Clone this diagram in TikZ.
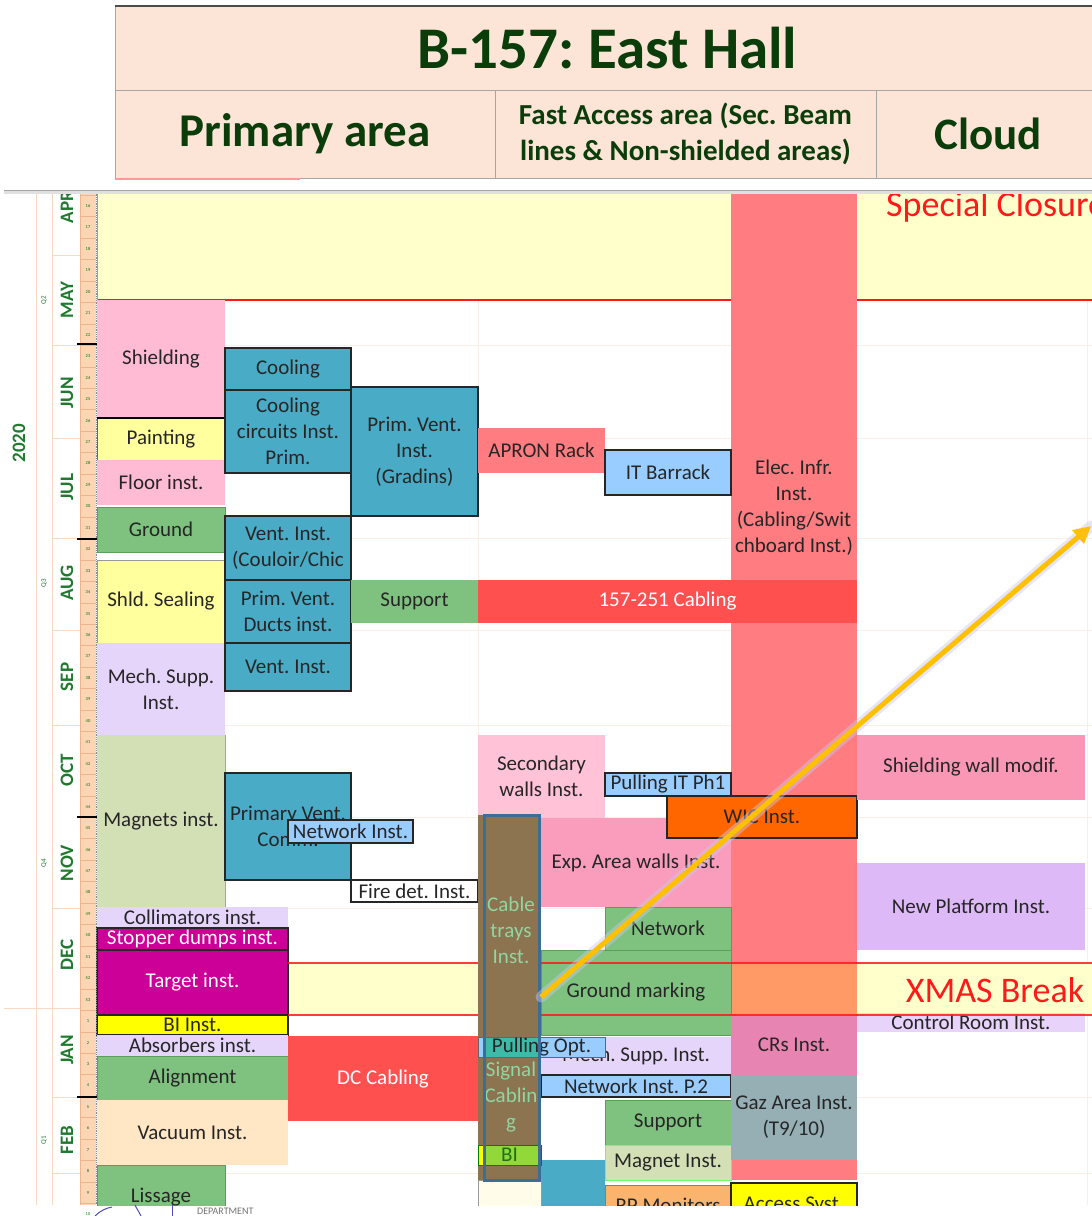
\documentclass[tikz,border=0pt]{standalone}
\usepackage{fontspec}
\setmainfont{Carlito}
\usetikzlibrary{arrows.meta}
\frenchspacing
\definecolor{hdr}{HTML}{FCE4D6}
\definecolor{hdrb}{HTML}{A6A6A6}
\definecolor{tgreen}{HTML}{0B3D0B}
\definecolor{mgreen}{HTML}{1F7A2E}
\definecolor{closure}{HTML}{FFFFCC}
\definecolor{redl}{HTML}{FF1A1A}
\definecolor{elec}{HTML}{FF7C80}
\definecolor{pinkA}{HTML}{FFBBD3}
\definecolor{yelA}{HTML}{FFFF9E}
\definecolor{grn}{HTML}{7FC27F}
\definecolor{grnb}{HTML}{5A9E5A}
\definecolor{lav}{HTML}{E6D5FB}
\definecolor{olive}{HTML}{D3DFB5}
\definecolor{mag}{HTML}{CC0099}
\definecolor{vyel}{HTML}{FFFF00}
\definecolor{peach}{HTML}{FFE6C4}
\definecolor{tealb}{HTML}{4AABC6}
\definecolor{lblue}{HTML}{99CCFF}
\definecolor{redb}{HTML}{FF5050}
\definecolor{pinkB}{HTML}{FFC2D6}
\definecolor{pinkC}{HTML}{FA9CBB}
\definecolor{orng}{HTML}{FF6600}
\definecolor{brown}{HTML}{8C7451}
\definecolor{steel}{HTML}{3A6E96}
\definecolor{cabt}{HTML}{8FD6A0}
\definecolor{tealo}{HTML}{3DBBA8}
\definecolor{ygreen}{HTML}{92D838}
\definecolor{crsc}{HTML}{E884B2}
\definecolor{gazc}{HTML}{96AFB4}
\definecolor{swmc}{HTML}{FA97B5}
\definecolor{newpc}{HTML}{DDB9F8}
\definecolor{ctrlc}{HTML}{E8D4FB}
\definecolor{xorg}{HTML}{FF9A66}
\definecolor{rpmc}{HTML}{FAB46E}
\definecolor{weekc}{HTML}{FCD5B4}
\definecolor{weekl}{HTML}{EDB48E}
\definecolor{gridc}{HTML}{FBEEE6}
\definecolor{axl}{HTML}{FAD9C3}
\definecolor{arrowc}{HTML}{FFC000}
\definecolor{txtc}{HTML}{262626}
\definecolor{cream}{HTML}{FFFDEA}
\definecolor{dgrn}{HTML}{1E6E1E}
\definecolor{glowc}{HTML}{C8C8F0}
\newcommand\bx[7]{%
  \pgfmathsetmacro\bxw{#4-#2}%
  \pgfmathsetmacro\bxh{#5-#3}%
  \pgfmathsetmacro\bxcx{(#2+#4)/2}%
  \pgfmathsetmacro\bxcy{(#3+#5)/2}%
  \node[box,#6,minimum width=\bxw pt,minimum height=\bxh pt] (#1) at (\bxcx,\bxcy) {#7};}
\begin{document}
\begin{tikzpicture}[x=1pt,y=-1pt,
  box/.style={rectangle,inner sep=0pt,outer sep=0pt,align=center,font=\fontsize{21}{26}\selectfont,text=txtc},
  lbl/.style={inner sep=0pt,align=center,font=\fontsize{21}{26}\selectfont,text=txtc},
  mon/.style={rotate=90,font=\fontsize{19}{22}\selectfont\bfseries,text=mgreen,inner sep=0pt},
  qlab/.style={rotate=90,font=\fontsize{7}{8}\selectfont,text=mgreen,inner sep=0pt},
  bdr/.style={draw=black!85,line width=1.2pt},
  hcell/.style={fill=hdr,draw=hdrb,line width=1pt},
  wtext/.style={text=white},
]
\useasboundingbox (0,0) rectangle (1092,1216);
\clip (0,0) rectangle (1092,1216);
\fill[white] (0,0) rectangle (1092,1216);

% ================= CHART =================
\begin{scope}
\clip (0,190) rectangle (1092,1205);
% faint grid
\foreach \yy in {255,345,438,538,630,725,817,908,1008,1097,1173}
  \draw[gridc,line width=1pt] (97,\yy) -- (1092,\yy);
\draw[gridc,line width=1pt] (478,190) -- (478,1205);
\draw[gridc,line width=1pt] (1087,190) -- (1087,1205);

% bands
\fill[closure] (97,190) rectangle (1092,300);
\draw[redl,line width=1.3pt] (97,300) -- (1092,300);
\draw[redl!60,line width=0.8pt] (97.5,190) -- (97.5,300);
\fill[closure] (288,963) rectangle (1092,1015);

% elec column
\bx{elec}{731}{190}{857}{1180}{fill=elec}{}
\fill[xorg] (731,963) rectangle (857,1015);
\node[lbl] (eleclbl) at (794,508) {Elec. Infr.\\Inst.\\(Cabling/Swit\\chboard Inst.)};

\node[anchor=west,inner sep=0pt,text=redl,font=\fontsize{36}{38}\selectfont] (closuretxt) at (886,207) {Special Closure};
\node[inner sep=0pt,text=redl,font=\fontsize{36}{38}\selectfont] (xmastxt) at (995,990) {XMAS Break};

% primary sub-column A
\bx{shield}{97}{300}{225}{418}{fill=pinkA}{Shielding}
\bx{paint}{97}{418}{225}{460}{fill=yelA,draw=black!60,line width=0.8pt}{Painting}
\draw[black,line width=1.2pt] (paint.north west) -- (paint.north east);
\bx{floor}{97}{460}{225}{505}{fill=pinkA}{Floor inst.}
\bx{ground}{97}{507}{225}{552}{fill=grn,draw=grnb,line width=0.8pt}{Ground}
\bx{sealing}{97}{560}{225}{643}{fill=yelA,draw=black!40,line width=0.8pt}{Shld. Sealing}
\bx{mechA}{97}{643}{225}{735}{fill=lav}{Mech. Supp.\\Inst.}
\bx{magnets}{97}{735}{225}{907}{fill=olive}{Magnets inst.}
\draw[green!70!black!60,line width=1pt] (magnets.north east) -- (magnets.south east);
\bx{collim}{97}{907}{288}{928}{fill=lav}{Collimators inst.}
\bx{stopper}{97}{928}{288}{950}{fill=mag,bdr,wtext}{Stopper dumps inst.}
\bx{target}{97}{950}{288}{1015}{fill=mag,bdr,wtext}{Target inst.}
\bx{biinst}{97}{1015}{288}{1035}{fill=vyel,bdr}{BI Inst.}
\bx{absorb}{97}{1035}{288}{1056}{fill=lav}{Absorbers inst.}
\bx{align}{97}{1056}{288}{1100}{fill=grn,draw=grnb,line width=0.6pt}{Alignment}
\bx{vacuum}{97}{1100}{288}{1165}{fill=peach}{Vacuum Inst.}
\bx{lissage}{97}{1165}{225}{1230}{fill=grn,draw=grnb,line width=0.6pt}{Lissage}

% primary sub-column B
\bx{cool}{225}{348}{351}{390}{fill=tealb,bdr}{Cooling}
\bx{coolc}{225}{390}{351}{473}{fill=tealb,bdr}{Cooling\\circuits Inst.\\Prim.}
\bx{ventc}{225}{516}{351}{580}{fill=tealb,bdr}{Vent. Inst.\\(Couloir/Chic}
\bx{ducts}{225}{580}{351}{643}{fill=tealb,bdr}{Prim. Vent.\\Ducts inst.}
\bx{ventb}{225}{643}{351}{691}{fill=tealb,bdr}{Vent. Inst.}
\bx{pvcomm}{225}{773}{351}{880}{fill=tealb,bdr}{Primary Vent.\\Comm.}
\bx{netinst}{288}{820}{413}{843}{fill=lblue,bdr}{Network Inst.}

% primary sub-column C
\bx{gradins}{351}{387}{478}{516}{fill=tealb,bdr}{Prim. Vent.\\Inst.\\(Gradins)}
\bx{supportA}{351}{580}{478}{623}{fill=grn}{Support}
\bx{fire}{351}{880}{478}{902}{fill=white,bdr}{Fire det. Inst.}
\bx{dccab}{288}{1036}{478}{1121}{fill=redb,wtext}{DC Cabling}

% fast access
\bx{apron}{478}{428}{605}{473}{fill=elec}{APRON Rack}
\bx{itb}{605}{450}{731}{495}{fill=lblue,bdr}{IT Barrack}
\bx{cab157}{478}{580}{857}{623}{fill=redb,wtext}{157-251 Cabling}
\bx{secw}{478}{735}{605}{818}{fill=pinkB}{Secondary\\walls Inst.}
\bx{expw}{541}{818}{731}{907}{fill=pinkC}{Exp. Area walls Inst.}
\fill[pinkC] (478,818) rectangle (541,907);
\bx{pullit}{605}{773}{731}{796}{fill=lblue,bdr}{Pulling IT Ph1}
\bx{wic}{667}{796}{857}{838}{fill=orng,bdr}{WIC Inst.}
\bx{netA}{605}{907}{731}{950}{fill=grn,draw=grnb,line width=0.8pt}{Network}
\bx{gmark}{541}{950}{731}{1035}{fill=grn,draw=grnb,line width=0.8pt}{Ground marking}
\bx{mechB}{541}{1037}{731}{1075}{fill=lav}{Mech. Supp. Inst.}
\bx{netp2}{541}{1075}{731}{1097}{fill=lblue,bdr}{Network Inst. P.2}
\bx{supportB}{605}{1100}{731}{1145}{fill=grn,draw=grnb,line width=0.6pt}{Support}
\bx{magnetB}{605}{1145}{731}{1180}{fill=olive,draw=green!60,line width=1pt}{Magnet Inst.}
\bx{rpmon}{605}{1185}{731}{1226}{fill=rpmc,draw=black!50,line width=0.6pt}{RP Monitors}
\bx{tealbot}{541}{1160}{605}{1226}{fill=tealb}{}
\bx{creambox}{478}{1180}{541}{1226}{fill=cream,draw=black!40,line width=0.8pt}{}

% elec column content
\bx{crs}{731}{1015}{857}{1075}{fill=crsc}{CRs Inst.}
\bx{gaz}{731}{1075}{857}{1160}{fill=gazc}{Gaz Area Inst.\\(T9/10)}
\bx{access}{731}{1183}{857}{1228}{fill=vyel,bdr}{Access Syst.}

% cloud
\bx{swm}{857}{735}{1085}{800}{fill=swmc}{Shielding wall modif.}
\bx{newp}{857}{863}{1085}{950}{fill=newpc}{New Platform Inst.}
\bx{ctrl}{857}{1013}{1085}{1032}{fill=ctrlc}{Control Room Inst.}

% xmas lines
\draw[redl,line width=1.2pt,opacity=0.85] (288,963) -- (1092,963);
\draw[redl,line width=1.2pt,opacity=0.85] (288,1015) -- (1092,1015);

% cable column
\bx{cable}{478}{815}{541}{1180}{fill=brown}{}
\node[lbl,text=cabt] (cablelbl) at (511,930) {Cable\\trays\\Inst.};
\node[lbl,text=cabt] (signallbl) at (511,1097) {Signal\\Cablin\\g};
\bx{pullopt}{478}{1037}{605}{1057}{fill=lblue,draw=black!60,line width=0.8pt,
  path picture={\fill[tealo] ([xshift=5pt]path picture bounding box.north west) rectangle ([xshift=63pt]path picture bounding box.south west);}}{Pulling Opt.}
\bx{bibox}{478}{1145}{541}{1165}{fill=ygreen,draw=green!50!black,line width=0.6pt,text=dgrn,
  path picture={\fill[vyel] (path picture bounding box.north west) rectangle ([xshift=5pt]path picture bounding box.south west);}}{BI}
\draw[steel,line width=3pt] ([xshift=6pt]cable.north west) rectangle ([xshift=-1.5pt]cable.south east);

% arrow
\coordinate (arrS) at (541,997);
\coordinate (arrE) at (1091,526);
\draw[glowc,line width=11pt,opacity=0.45,line cap=round] (arrS) -- (arrE);
\draw[arrowc,line width=5pt,-{Triangle[length=17pt,width=17pt]}] (arrS) -- (arrE);
\end{scope}

% ================= LEFT AXIS =================
\draw[axl,line width=1pt] (36,190) -- (36,1205);
\draw[axl,line width=1pt] (52,190) -- (52,1205);
\draw[axl,line width=1pt] (4,1008) -- (52,1008);
\foreach \yy in {255,345,438,538,630,725,908,1008,1097,1173}
  \draw[axl,line width=1pt] (52,\yy) -- (80,\yy);
\fill[weekc] (80,190) rectangle (96,1205);
\draw[weekl,line width=0.8pt] (80,190) -- (80,1205);
\draw[black!45,line width=0.8pt,densely dotted] (96.5,190) -- (96.5,1205);
\foreach \i in {0,...,47}{
  \pgfmathsetmacro\wy{195.3+21.45*\i}
  \draw[weekl,line width=0.7pt] (80,\wy) -- (96,\wy);
  \pgfmathtruncatemacro\wn{mod(15+\i,53)+1}
  \pgfmathsetmacro\wty{\wy+10.7}
  \node[font=\fontsize{4.5}{5}\selectfont,text=green!45!black,inner sep=0pt] (wk\i) at (88,\wty) {\wn};
}
\foreach \yy in {344,539,817,1097}
  \draw[black,line width=1.6pt] (77,\yy) -- (97,\yy);

\node[mon] (mApr) at (67,207) {APR};
\node[mon] (mMay) at (67,300) {MAY};
\node[mon] (mJun) at (67,393) {JUN};
\node[mon] (mJul) at (67,487) {JUL};
\node[mon] (mAug) at (67,583) {AUG};
\node[mon] (mSep) at (67,677) {SEP};
\node[mon] (mOct) at (67,770) {OCT};
\node[mon] (mNov) at (67,863) {NOV};
\node[mon] (mDec) at (67,955) {DEC};
\node[mon] (mJan) at (67,1050) {JAN};
\node[mon] (mFeb) at (67,1140) {FEB};
\node[qlab] (q2) at (44,300) {Q2};
\node[qlab] (q3) at (44,583) {Q3};
\node[qlab] (q4) at (44,863) {Q4};
\node[qlab] (q1) at (44,1140) {Q1};
\node[rotate=90,font=\fontsize{19}{22}\selectfont\bfseries,text=mgreen,inner sep=0pt] (year) at (19,443) {2020};

% top border of chart
\draw[black!12,line width=3pt] (4,192) -- (1092,192);
\draw[black!35,line width=1pt] (4,190) -- (1092,190);

% bottom remnants
\node[anchor=west,inner sep=0pt,font=\fontsize{10}{11}\selectfont,text=black!55] (dept) at (197,1211) {DEPARTMENT};
\draw[blue!60!black!70,line width=1pt] (95,1216) .. controls (100,1211) and (106,1208) .. (112,1207);
\draw[blue!60!black!70,line width=1pt] (135,1205) .. controls (137,1209) and (139,1212) .. (141,1216);
\draw[blue!60!black!70,line width=1pt] (172,1205) -- (172,1216);

% ================= HEADER =================
\bx{title}{115}{6}{1100}{90}{hcell,font=\fontsize{59}{62}\selectfont\bfseries,text=tgreen}{B-157: East Hall}
\draw[black!70,line width=1.6pt] (title.north west) -- (title.north east);
\bx{hprim}{115}{90}{495}{178}{hcell,font=\fontsize{47}{50}\selectfont\bfseries,text=tgreen}{Primary area}
\bx{hfast}{495}{90}{876}{178}{hcell,font=\fontsize{29}{36}\selectfont\bfseries,text=tgreen}{Fast Access area (Sec. Beam\\lines \& Non-shielded areas)}
\bx{hcloud}{876}{90}{1100}{178}{hcell,font=\fontsize{45}{48}\selectfont\bfseries,text=tgreen}{Cloud}
\draw[red!40,line width=1.5pt] (115,179) -- (300,179);
\end{tikzpicture}
\end{document}
